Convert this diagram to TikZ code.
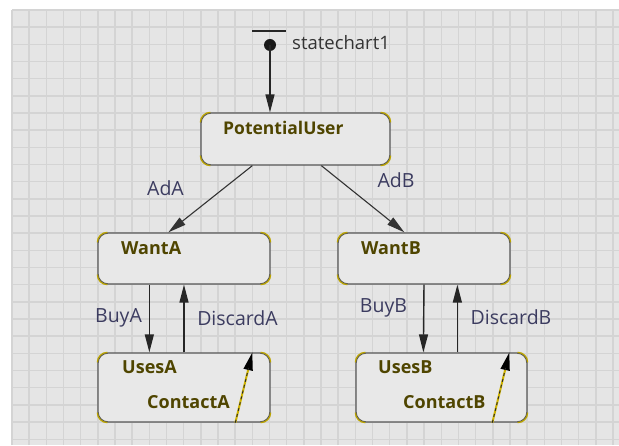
\documentclass[tikz,border=0pt]{standalone}
\usepackage{fontspec}
\setmainfont{Open Sans}
\usetikzlibrary{arrows.meta,calc}
\definecolor{gridfill}{HTML}{E5E5E5}
\definecolor{gridline}{HTML}{D4D4D4}
\definecolor{statefill}{HTML}{E8E8E8}
\definecolor{stateborder}{HTML}{555555}
\definecolor{corner}{HTML}{BBA400}
\definecolor{statetext}{HTML}{4F4500}
\definecolor{transtext}{HTML}{3C3C60}
\definecolor{contactline}{HTML}{D0B400}
\tikzset{
  statebox/.style={draw=stateborder, line width=1.3pt, fill=statefill, rounded corners=10pt, inner sep=0pt},
  statename/.style={anchor=west, inner sep=0pt, font=\fontsize{18}{18}\selectfont\bfseries, text=statetext},
  translabel/.style={inner sep=0pt, font=\fontsize{19.5}{19.5}\selectfont, text=transtext},
  trans/.style={draw=black!85, line width=1.4pt, -{Triangle[length=18pt,width=9pt]}},
  diag/.style={draw=black!80, line width=1.1pt, -{Triangle[length=18pt,width=9pt]}},
  contact/.style={draw=contactline, line width=2pt, -{Triangle[length=18pt,width=9pt,color=black]}},
  contactdash/.style={draw=black!85, line width=0.9pt, dash pattern=on 3pt off 3pt, shorten >=16pt},
}
\begin{document}
\begin{tikzpicture}[x=1pt,y=1pt]
\useasboundingbox (0,0) rectangle (619,445);
\fill[white] (0,0) rectangle (619,445);
\fill[gridfill] (12,0) rectangle (619,435);
\foreach \k in {0,...,35} {
  \draw[gridline, line width=1.5pt] ({12+17.17*\k},0) -- ({12+17.17*\k},435);
}
\foreach \k in {0,...,25} {
  \draw[gridline, line width=1.5pt] (12,{435-17.17*\k}) -- (619,{435-17.17*\k});
}
% states
\node[statebox, minimum width=189pt, minimum height=52pt] (PU) at (295.5,306) {};
\node[statebox, minimum width=172pt, minimum height=51pt] (WA) at (184,186.5) {};
\node[statebox, minimum width=172pt, minimum height=51pt] (WB) at (424,186.5) {};
\node[statebox, minimum width=172pt, minimum height=69pt] (UA) at (184,57.5) {};
\node[statebox, minimum width=171pt, minimum height=69pt] (UB) at (441.5,57.5) {};
% yellow corner arcs
\foreach \n in {PU,WA,WB,UA,UB} {
  \draw[corner, line width=1.3pt] ($(\n.north west)+(0,-10)$) arc[start angle=180, end angle=90, radius=10pt];
  \draw[corner, line width=1.3pt] ($(\n.north east)+(-10,0)$) arc[start angle=90, end angle=0, radius=10pt];
  \draw[corner, line width=1.3pt] ($(\n.south east)+(0,10)$) arc[start angle=0, end angle=-90, radius=10pt];
  \draw[corner, line width=1.3pt] ($(\n.south west)+(10,0)$) arc[start angle=270, end angle=180, radius=10pt];
}
% state names
\node[statename, font=\fontsize{17.5}{17.5}\selectfont\bfseries] (tPU) at (223,317) {PotentialUser};
\node[statename] (tWA) at (121,197) {WantA};
\node[statename] (tWB) at (361,197) {WantB};
\node[statename] (tUA) at (122,78) {UsesA};
\node[statename] (tUB) at (378,78) {UsesB};
\node[statename] (tCA) at (147,43) {ContactA};
\node[statename] (tCB) at (403,43) {ContactB};
% initial pseudo state
\coordinate (barL) at (252,414);
\coordinate (barR) at (286,414);
\draw[black!85, line width=2.6pt] (barL) -- (barR);
\node[circle, fill=black!90, minimum size=12pt, inner sep=0pt] (init) at (270,400) {};
\node[anchor=west, inner sep=0pt, font=\fontsize{18.5}{18.5}\selectfont, text=black!80] (sc) at (292,402) {statechart1};
\draw[trans] (init.center) -- (init.center |- PU.north);
% transitions
\draw[diag] ($(PU.south west)+(52,0)$) -- ($(WA.north west)+(71,0)$);
\draw[diag] ($(PU.south west)+(121,0)$) -- ($(WB.north west)+(67,0)$);
\draw[trans] ($(WA.south west)+(52,0)$) -- ($(UA.north west)+(52,0)$);
\draw[trans] (UA.north) -- (WA.south);
\draw[trans] (WB.south) -- ($(UB.north west)+(68,0)$);
\draw[trans] ($(UB.north west)+(102,0)$) -- ($(WB.south west)+(120,0)$);
\draw[contact] ($(UA.south west)+(138,0)$) -- ($(UA.north west)+(155,0)$);
\draw[contactdash] ($(UA.south west)+(138,0)$) -- ($(UA.north west)+(155,0)$);
\draw[contact] ($(UB.south west)+(137,0)$) -- ($(UB.north west)+(154,0)$);
\draw[contactdash] ($(UB.south west)+(137,0)$) -- ($(UB.north west)+(154,0)$);
% transition labels
\node[translabel] (lAdA) at (165.5,257) {AdA};
\node[translabel] (lAdB) at (396,265) {AdB};
\node[translabel] (lBuyA) at (118.5,127) {BuyA};
\node[translabel] (lDisA) at (237.5,127) {DiscardA};
\node[translabel] (lBuyB) at (383.5,137) {BuyB};
\node[translabel] (lDisB) at (511,128) {DiscardB};
\end{tikzpicture}
\end{document}
